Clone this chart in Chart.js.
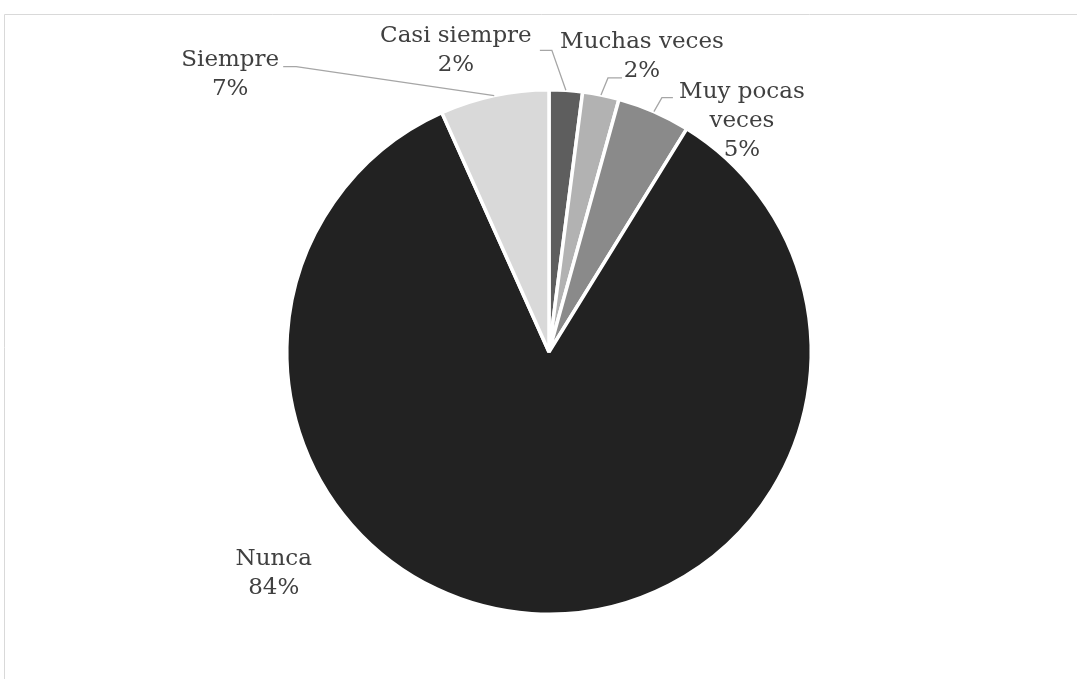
<!DOCTYPE html>
<html>
<head>
<meta charset="utf-8">
<script src="https://cdn.jsdelivr.net/npm/chart.js@4.4.1/dist/chart.umd.min.js"></script>
<style>
  html, body { margin: 0; padding: 0; background: #fff; }
  #wrap { position: relative; width: 1077px; height: 679px; }
</style>
</head>
<body>
<div id="wrap"><canvas id="pie"></canvas></div>
<script>
// data (clockwise from 12 o'clock)
const categories = ['Casi siempre', 'Muchas veces', 'Muy pocas veces', 'Nunca', 'Siempre'];
const values = [2.05, 2.25, 4.5, 84.5, 6.7];
const shownPct = ['2%', '2%', '5%', '84%', '7%'];
const labelLines = [['Casi siempre', '2%'], ['Muchas veces', '2%'], ['Muy pocas', 'veces', '5%'], ['Nunca', '84%'], ['Siempre', '7%']];
const sliceColors = ['#5e5e5e', '#b2b2b2', '#8a8a8a', '#222222', '#d9d9d9'];

// label placement relative to the slice's outer midpoint: text centre offset, leader elbow
const labelPos = [
  { dx: -110, dy: -40, leader: [[-14, -40], [-26, -40]] },
  { dx: 41, dy: -38, leader: [[7, -17], [21, -17]] },
  { dx: 88, dy: 9, leader: [[8, -14], [19, -14]] },
  { dx: -258, dy: -40, leader: null },
  { dx: -264, dy: -21, leader: [[-198, -29], [-211, -29]] }
];

const FONT = '23px "DejaVu Serif"';

const frame = {
  id: 'frame',
  beforeDraw(chart) {
    const c = chart.ctx;
    c.save();
    c.strokeStyle = '#d9d9d9';
    c.lineWidth = 1;
    c.beginPath();
    c.moveTo(4.5, 690);
    c.lineTo(4.5, 14.5);
    c.lineTo(1090, 14.5);
    c.stroke();
    c.restore();
  }
};

const outsideLabels = {
  id: 'outsideLabels',
  afterDraw(chart) {
    const c = chart.ctx;
    const arcs = chart.getDatasetMeta(0).data;
    c.save();
    c.font = FONT;
    c.fillStyle = '#404040';
    c.textAlign = 'center';
    c.textBaseline = 'middle';
    arcs.forEach((arc, i) => {
      const p = arc.getProps(['x', 'y', 'startAngle', 'endAngle', 'outerRadius'], true);
      const mid = (p.startAngle + p.endAngle) / 2;
      const ax = p.x + Math.cos(mid) * p.outerRadius;
      const ay = p.y + Math.sin(mid) * p.outerRadius;
      const pos = labelPos[i];
      if (pos.leader) {
        c.strokeStyle = '#a6a6a6';
        c.lineWidth = 1.3;
        c.beginPath();
        c.moveTo(ax, ay);
        pos.leader.forEach(pt => c.lineTo(ax + pt[0], ay + pt[1]));
        c.stroke();
      }
      const lines = labelLines[i];
      const lh = 29;
      const cx = ax + pos.dx;
      const cy = ay + pos.dy - (lines.length - 1) * lh / 2;
      lines.forEach((t, k) => c.fillText(t, cx, cy + k * lh));
    });
    c.restore();
  }
};

new Chart(document.getElementById('pie'), {
  type: 'pie',
  data: {
    labels: categories,
    datasets: [{
      data: values,
      backgroundColor: sliceColors,
      borderColor: '#ffffff',
      borderWidth: 3.5
    }]
  },
  options: {
    responsive: true,
    maintainAspectRatio: false,
    animation: false,
    layout: { padding: { top: 88, bottom: 63, left: 21, right: 0 } },
    plugins: {
      legend: { display: false },
      tooltip: { enabled: false }
    }
  },
  plugins: [frame, outsideLabels]
});
</script>
</body>
</html>
